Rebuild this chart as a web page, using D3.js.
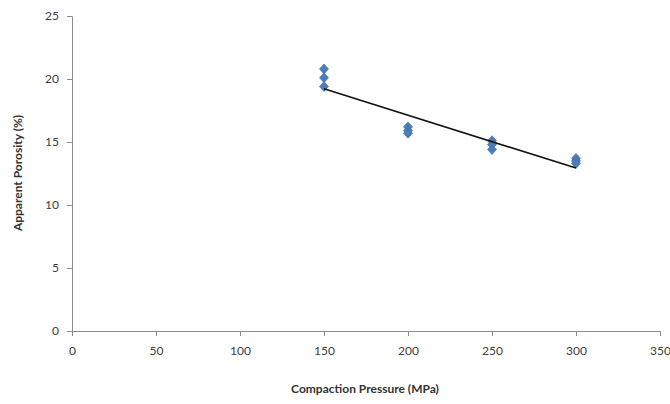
<!DOCTYPE html>
<html><head><meta charset="utf-8">
<script src="https://cdn.jsdelivr.net/npm/d3@7"></script>
<style>body{margin:0;background:#fff}</style>
</head><body>
<svg id="c" width="670" height="404"></svg>
<script>
const pressure = [150,150,150,200,200,200,250,250,250,300,300,300];
const porosity = [20.8,20.1,19.4,16.2,15.9,15.7,15.1,14.8,14.4,13.7,13.5,13.3];
const xTicks = [0,50,100,150,200,250,300,350];
const yTicks = [0,5,10,15,20,25];

const svg = d3.select("#c");
const x = d3.scaleLinear().domain([0,350]).range([72,660]);
const y = d3.scaleLinear().domain([0,25]).range([331,16]);
const font = "Lato, 'Open Sans', sans-serif";

const yAx = svg.append("g").attr("transform","translate(72,0)")
  .call(d3.axisLeft(y).tickValues(yTicks).tickSize(5).tickPadding(8));
const xAx = svg.append("g").attr("transform","translate(0,331)")
  .call(d3.axisBottom(x).tickValues(xTicks).tickSize(5).tickPadding(10));
[yAx,xAx].forEach(g=>{
  g.selectAll("path,line").attr("stroke","#8c8c8c");
  g.selectAll("text").attr("fill","#404040").style("font-family",font).style("font-size","12px");
});

// linear trendline from data
const n = pressure.length;
const mx = d3.mean(pressure), my = d3.mean(porosity);
let sxy=0, sxx=0;
for(let i=0;i<n;i++){sxy+=(pressure[i]-mx)*(porosity[i]-my);sxx+=(pressure[i]-mx)**2;}
const slope = sxy/sxx, icpt = my - slope*mx;
const x0=d3.min(pressure), x1=d3.max(pressure);

svg.append("g").selectAll("path").data(pressure).join("path")
  .attr("d", d3.symbol(d3.symbolDiamond2 || d3.symbolDiamond, 52)())
  .attr("transform",(d,i)=>`translate(${x(d)},${y(porosity[i])}) scale(1,1.1)`)
  .attr("fill","#4a7ebb").attr("stroke","#3f6fae").attr("stroke-width",0.6);

svg.append("line")
  .attr("x1",x(x0)).attr("y1",y(icpt+slope*x0))
  .attr("x2",x(x1)).attr("y2",y(icpt+slope*x1))
  .attr("stroke","#111").attr("stroke-width",1.6);

svg.append("text").attr("x",365).attr("y",393).attr("text-anchor","middle")
  .style("font-family",font).style("font-size","12px").style("font-weight","bold").attr("fill","#333")
  .text("Compaction Pressure (MPa)");
svg.append("text").attr("transform","translate(22,173) rotate(-90)").attr("text-anchor","middle")
  .style("font-family",font).style("font-size","12px").style("font-weight","bold").attr("fill","#333")
  .text("Apparent Porosity (%)");
</script>
</body></html>
